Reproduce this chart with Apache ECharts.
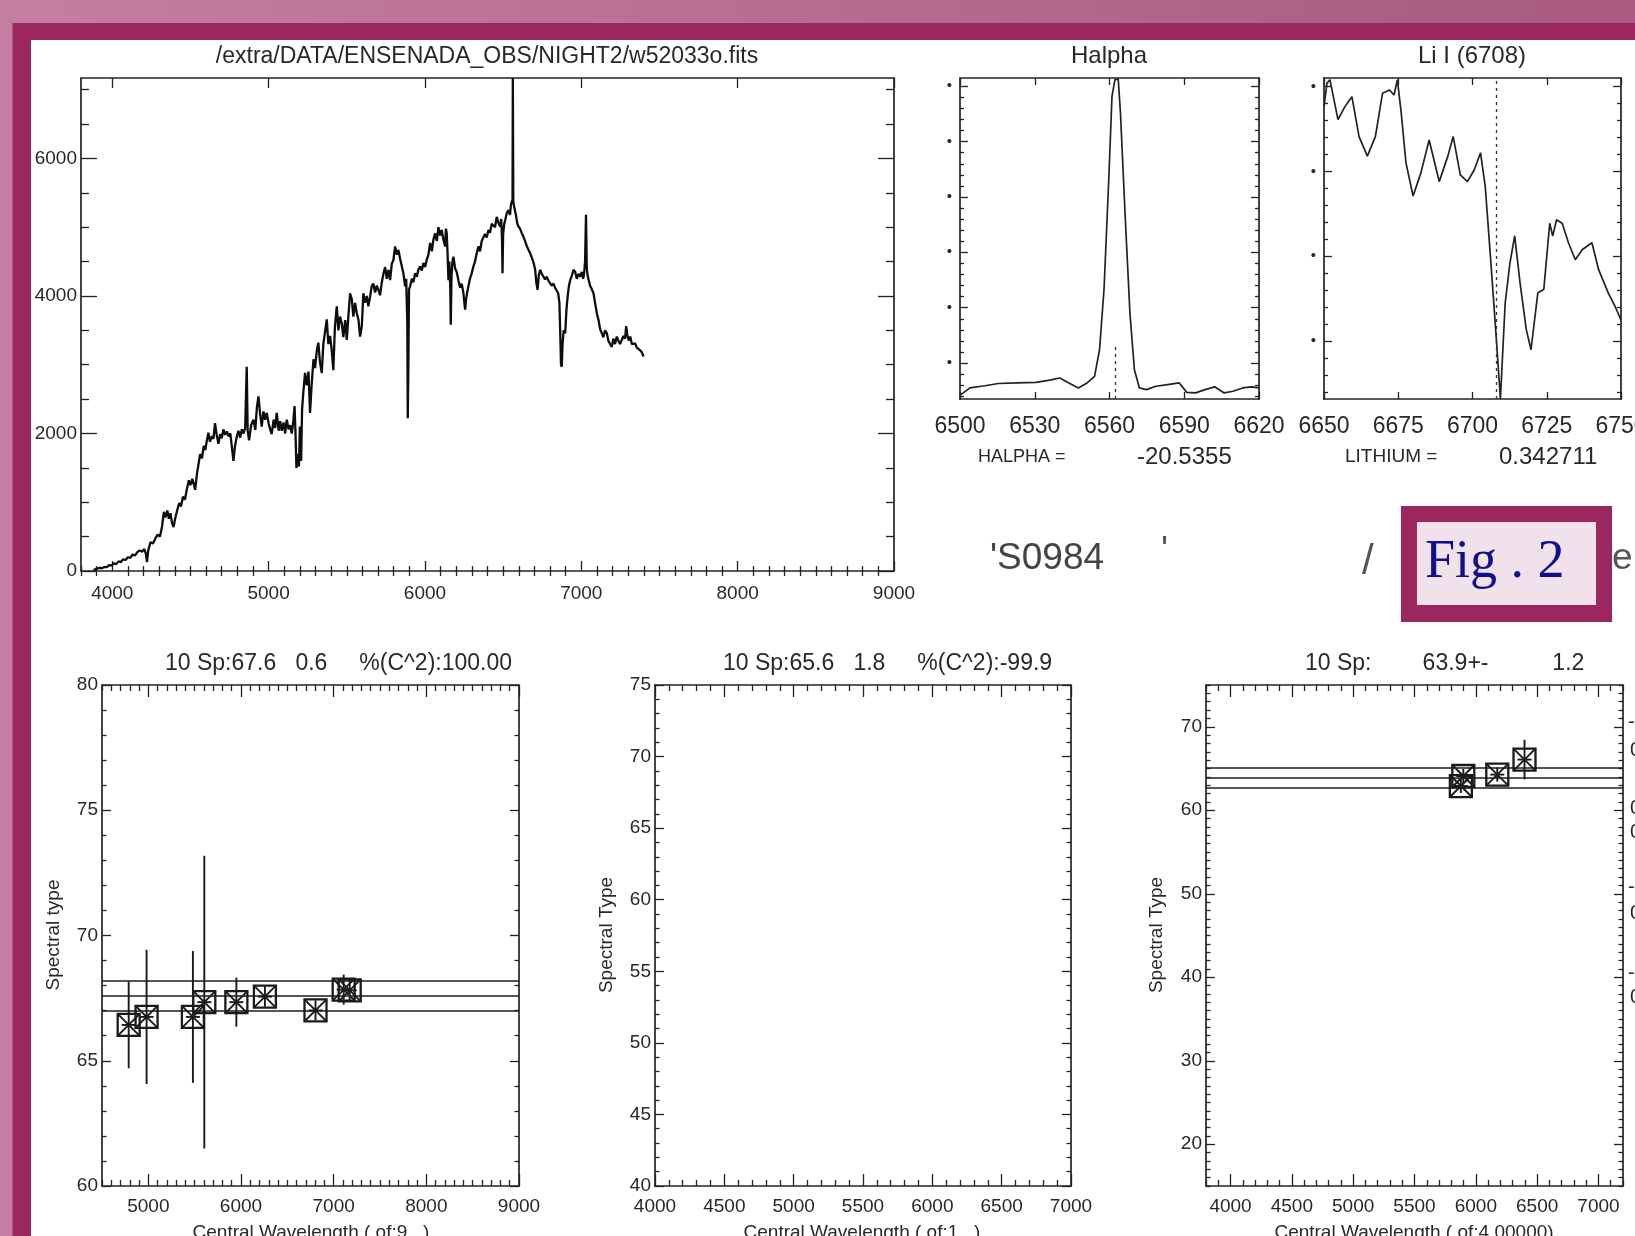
<!DOCTYPE html>
<html><head><meta charset="utf-8">
<script src="https://cdn.jsdelivr.net/npm/echarts@6/dist/echarts.min.js"></script>
<style>html,body{margin:0;padding:0;background:#fff;overflow:hidden}#c{width:1635px;height:1236px}</style>
</head><body><div id="c"></div>
<script>
// ---------- DATA ----------
const specTitle = '/extra/DATA/ENSENADA_OBS/NIGHT2/w52033o.fits';
const specXTicks = [4000, 5000, 6000, 7000, 8000, 9000];
const specYTicks = [0, 2000, 4000, 6000];
const specPoints = [
[3880,15],[3895,30],[3905,20],[3920,45],[3935,40],[3950,60],[3965,55],[3980,85],[3995,80],[4010,110],
[4025,100],[4040,140],[4055,130],[4070,170],[4085,160],[4100,200],[4115,190],[4130,240],[4145,225],[4160,275],
[4175,300],[4190,280],[4205,320],[4215,250],[4222,130],[4230,300],[4245,420],[4260,400],[4275,470],[4290,530],
[4305,500],[4318,640],[4330,860],[4340,780],[4352,880],[4362,760],[4372,840],[4382,700],[4392,640],[4402,760],
[4415,880],[4428,990],[4440,940],[4452,1080],[4465,1040],[4478,1200],[4490,1320],[4500,1250],[4512,1340],[4522,1260],
[4530,1180],[4542,1420],[4552,1560],[4562,1700],[4574,1640],[4585,1820],[4595,1760],[4605,1900],[4615,2010],[4625,1880],
[4637,1960],[4647,1920],[4657,2150],[4667,1990],[4679,1850],[4690,1990],[4700,1930],[4711,2060],[4722,1980],[4733,2030],
[4743,1960],[4755,2000],[4765,1800],[4775,1600],[4785,1820],[4797,1960],[4807,2040],[4818,1940],[4829,2060],[4839,2000],
[4850,2080],[4860,2970],[4866,2040],[4875,1900],[4888,2120],[4903,2200],[4915,2050],[4925,2380],[4935,2540],[4945,2300],
[4956,2100],[4967,2320],[4978,2200],[4988,2300],[5000,2150],[5010,2060],[5020,1990],[5032,2200],[5042,2080],[5052,2300],
[5064,2040],[5074,2180],[5084,2040],[5096,2160],[5106,2000],[5116,2200],[5128,2060],[5138,2120],[5148,2000],[5158,2180],
[5166,2400],[5172,2000],[5178,1500],[5186,1700],[5194,1520],[5200,2100],[5208,1600],[5214,2350],[5222,2600],[5233,2880],
[5244,2700],[5255,2900],[5265,2300],[5275,2700],[5287,3080],[5297,2950],[5308,3200],[5318,3320],[5328,3050],[5340,2880],
[5350,3300],[5362,3500],[5372,3660],[5382,3300],[5393,3420],[5404,3200],[5414,2920],[5424,3550],[5436,3850],[5446,3500],
[5457,3700],[5468,3600],[5478,3400],[5490,3650],[5500,3360],[5510,3700],[5521,4040],[5532,3950],[5542,3700],[5553,3900],
[5564,3750],[5575,3650],[5585,3410],[5596,3560],[5606,4040],[5617,3900],[5628,4000],[5638,3850],[5649,3990],[5660,4150],
[5670,4180],[5681,4050],[5692,4150],[5702,4090],[5713,4010],[5724,4200],[5735,4330],[5745,4420],[5756,4250],[5767,4380],
[5777,4230],[5788,4470],[5798,4520],[5809,4720],[5820,4600],[5830,4670],[5841,4540],[5851,4520],[5862,4330],[5873,4140],
[5880,4250],[5887,3600],[5890,2220],[5894,3000],[5898,4100],[5905,4140],[5916,4250],[5926,4200],[5937,4330],[5948,4280],
[5958,4380],[5969,4430],[5980,4370],[5990,4480],[6001,4420],[6011,4520],[6022,4600],[6033,4770],[6044,4650],[6054,4820],
[6065,4910],[6076,4800],[6086,5000],[6097,4880],[6107,4960],[6118,4820],[6129,4720],[6134,4980],[6139,4910],[6145,4600],
[6150,4230],[6156,4500],[6162,4100],[6165,3580],[6170,4300],[6176,4500],[6182,4570],[6193,4400],[6203,4350],[6214,4230],
[6225,4120],[6235,4180],[6246,4040],[6252,3900],[6257,3800],[6263,3950],[6270,4050],[6278,4140],[6288,4250],[6299,4330],
[6310,4430],[6320,4500],[6331,4620],[6342,4720],[6352,4650],[6363,4800],[6374,4810],[6384,4900],[6395,4850],[6406,4960],
[6416,4920],[6427,5050],[6438,5060],[6448,5000],[6459,5150],[6470,5060],[6481,5010],[6488,5120],[6493,4800],[6496,4330],
[6500,4900],[6507,5050],[6513,5100],[6523,5200],[6534,5250],[6544,5180],[6550,5330],[6555,5350],[6560,5400],[6562,7170],
[6565,5380],[6570,5300],[6580,5200],[6590,5060],[6598,5010],[6608,4980],[6618,4920],[6630,4860],[6640,4800],[6652,4720],
[6662,4700],[6673,4620],[6683,4560],[6695,4480],[6705,4380],[6712,4200],[6720,4090],[6728,4300],[6737,4380],[6747,4320],
[6758,4330],[6768,4240],[6779,4280],[6790,4220],[6800,4240],[6811,4150],[6822,4180],[6832,4120],[6843,4100],[6852,4040],
[6860,3900],[6866,3400],[6870,3000],[6875,2970],[6880,3300],[6887,3500],[6897,3460],[6905,3800],[6913,4000],[6921,4150],
[6929,4230],[6940,4300],[6950,4380],[6961,4350],[6971,4250],[6982,4320],[6993,4280],[7003,4350],[7012,4250],[7018,4330],
[7024,4500],[7030,5180],[7035,4400],[7040,4300],[7046,4280],[7056,4150],[7067,4100],[7078,4040],[7088,3900],[7099,3750],
[7110,3650],[7120,3520],[7131,3460],[7141,3400],[7152,3500],[7163,3460],[7173,3350],[7184,3300],[7195,3260],[7205,3380],
[7216,3300],[7227,3410],[7237,3350],[7248,3300],[7259,3360],[7270,3420],[7280,3380],[7287,3560],[7295,3420],[7305,3350],
[7313,3410],[7323,3300],[7334,3280],[7344,3310],[7355,3250],[7365,3230],[7376,3210],[7387,3180],[7398,3120]
];

const haTitle = 'Halpha';
const haXTicks = [6500, 6530, 6560, 6590, 6620];
const haYTicks = [1, 2, 3, 4, 5, 6];
const haPoints = [
[6500,0.42],[6501.3,0.46],[6504,0.55],[6510,0.59],[6515.4,0.63],[6523,0.64],[6530.5,0.65],[6536,0.69],[6540,0.73],[6543.7,0.64],
[6547.5,0.55],[6551,0.64],[6554,0.76],[6556,1.24],[6557.8,2.33],[6559.7,4.31],[6561,5.82],[6562.2,6.12],[6563.5,6.13],[6564.4,5.52],
[6566.3,3.65],[6568.2,1.90],[6570,0.88],[6572,0.55],[6574.8,0.52],[6578.6,0.58],[6583.3,0.61],[6588,0.64],[6591,0.47],[6594.6,0.46],
[6598.3,0.52],[6602.2,0.57],[6606,0.46],[6609.6,0.49],[6613.4,0.55],[6617,0.57],[6620,0.55]
];
const haCenter = 6562.5;
const haDashTop = 1.3;
const haLabel = 'HALPHA =';
const haValue = '-20.5355';

const liTitle = 'Li I (6708)';
const liXTicks = [6650, 6675, 6700, 6725, 6750];
const liYTicks = [1, 2, 3, 4];
const liPoints = [
[6650,3.76],[6651,4.04],[6652,4.08],[6654.7,3.61],[6657,3.76],[6659.4,3.88],[6661.8,3.41],[6664.6,3.18],[6667.3,3.41],[6669.7,3.92],
[6672,3.96],[6673.6,3.90],[6674.7,4.08],[6676,3.69],[6677.6,3.10],[6680,2.71],[6682.6,2.98],[6685.4,3.37],[6688.8,2.88],[6691.7,3.18],
[6693.5,3.41],[6695.9,2.96],[6698.3,2.88],[6700.6,3.02],[6702.7,3.22],[6704.3,2.82],[6706.2,1.92],[6707.8,1.14],[6709.4,0.32],[6711,1.45],
[6712.6,1.92],[6714.2,2.24],[6716,1.69],[6718.1,1.14],[6719.7,0.90],[6722,1.57],[6724,1.61],[6726,2.39],[6727,2.24],[6728.3,2.43],
[6730.2,2.39],[6732.3,2.16],[6734.6,1.96],[6737,2.08],[6740.2,2.16],[6742.5,1.84],[6745.7,1.57],[6748,1.41],[6750,1.25]
];
const liCenter = 6708;
const liLabel = 'LITHIUM =';
const liValue = '0.342711';

// bottom-left panel
const b1Wave = [4788, 4981, 5481, 5604, 5950, 6258, 6804, 7108, 7173];
const b1Sp   = [66.43, 66.75, 66.75, 67.34, 67.34, 67.56, 67.01, 67.84, 67.81];
const b1Err  = [1.73, 2.68, 2.63, 5.84, 0.98, 0.4, 0.4, 0.6, 0.4];
const b1Mean = 67.6, b1Sig = 0.6, b1Chi = '100.00', b1N = '9   ';
const b1XTicks = [5000, 6000, 7000, 8000, 9000];
const b1YTicks = [60, 65, 70, 75, 80];
// bottom-middle panel (no points)
const b2Mean = 65.6, b2Sig = 1.8, b2Chi = '-99.9', b2N = '1   ';
const b2XTicks = [4000, 4500, 5000, 5500, 6000, 6500, 7000];
const b2YTicks = [40, 45, 50, 55, 60, 65, 70, 75];
// bottom-right panel
const b3Wave = [5878, 5898, 6175, 6397];
const b3Sp   = [62.9, 64.1, 64.27, 66.07];
const b3Err  = [0.7, 0.6, 0.6, 2.37];
const b3Mean = 63.9, b3Sig = 1.2, b3N = '4.00000';
const b3XTicks = [4000, 4500, 5000, 5500, 6000, 6500, 7000];
const b3YTicks = [20, 30, 40, 50, 60, 70];

// ---------- STYLE / HELPERS ----------
const FONT = 'Liberation Sans';
const INK = '#232323';
const TXT = '#282828';
const xAxes = [], yAxes = [];
function range(a, b, s, ex) {
  const r = [];
  for (let i = 0; a + i * s <= b + 1e-9; i++) {
    const v = Math.round((a + i * s) * 1000) / 1000;
    if (!ex.some(e => Math.abs(e - v) < 1e-6)) r.push(v);
  }
  return r;
}
function lab(vals, fs, margin, fmt) {
  return {show: true, customValues: vals, fontSize: fs, margin: margin, color: TXT, fontFamily: FONT,
          formatter: fmt || (v => String(v))};
}
function addBox(g, c) {
  const xi = xAxes.length, yi = yAxes.length;
  const ls = {color: INK, width: 1.3};
  ['bottom', 'top'].forEach(pos => {
    xAxes.push({type: 'value', gridIndex: g, position: pos, min: c.x[0], max: c.x[1], splitLine: {show: false},
      axisLine: {show: true, onZero: false, lineStyle: {color: INK, width: 1.7}},
      axisTick: {show: true, inside: true, length: c.xt, customValues: c.xMaj, lineStyle: ls},
      axisLabel: pos === 'bottom' ? lab(c.xLab, c.xfs, c.xm, c.xfmt) : {show: false}});
    if (c.xMin) xAxes.push({type: 'value', gridIndex: g, position: pos, min: c.x[0], max: c.x[1], splitLine: {show: false},
      axisLine: {show: false},
      axisTick: {show: true, inside: true, length: c.xt / 2, customValues: c.xMin, lineStyle: ls},
      axisLabel: {show: false}});
  });
  ['left', 'right'].forEach(pos => {
    yAxes.push({type: 'value', gridIndex: g, position: pos, min: c.y[0], max: c.y[1], splitLine: {show: false},
      axisLine: {show: true, onZero: false, lineStyle: {color: INK, width: 1.7}},
      axisTick: {show: true, inside: true, length: c.yt, customValues: c.yMaj, lineStyle: ls},
      axisLabel: pos === 'left' ? lab(c.yLab, c.yfs, c.ym, c.yfmt) : {show: false}});
    if (c.yMin) yAxes.push({type: 'value', gridIndex: g, position: pos, min: c.y[0], max: c.y[1], splitLine: {show: false},
      axisLine: {show: false},
      axisTick: {show: true, inside: true, length: c.yt / 2, customValues: c.yMin, lineStyle: ls},
      axisLabel: {show: false}});
  });
  return {xi, yi};
}
const dot = () => '•';

const gridBase = {containLabel: false, outerBoundsMode: 'none'};
const grids = [
  Object.assign({left: 81, top: 78, width: 813, height: 493}, gridBase),
  Object.assign({left: 960, top: 78, width: 299, height: 321}, gridBase),
  Object.assign({left: 1324, top: 78, width: 297, height: 321}, gridBase),
  Object.assign({left: 102, top: 685, width: 417, height: 501}, gridBase),
  Object.assign({left: 655, top: 685, width: 416, height: 501}, gridBase),
  Object.assign({left: 1206, top: 685, width: 417, height: 501}, gridBase)
];

const A0 = addBox(0, {x: [3800, 9000], y: [0, 7170], xMaj: specXTicks, xMin: range(3800, 9000, 100, specXTicks),
  yMaj: specYTicks, yMin: range(500, 7000, 500, specYTicks), xLab: specXTicks, yLab: specYTicks,
  xt: 10, yt: 16, xfs: 19, yfs: 19, xm: 13, ym: 4});
const A1 = addBox(1, {x: [6500, 6620], y: [0.35, 6.15], xMaj: haXTicks, yMaj: haYTicks, yMin: range(0.4, 6.0, 0.2, haYTicks),
  xLab: haXTicks, yLab: haYTicks, xt: 7, yt: 8, xfs: 23, yfs: 15, xm: 16, ym: 8, yfmt: dot});
const A2 = addBox(2, {x: [6650, 6750], y: [0.32, 4.10], xMaj: liXTicks, yMaj: liYTicks, yMin: range(0.4, 4.0, 0.2, liYTicks),
  xLab: liXTicks, yLab: liYTicks, xt: 7, yt: 8, xfs: 23, yfs: 15, xm: 16, ym: 8, yfmt: dot});
const A3 = addBox(3, {x: [4500, 9000], y: [60, 80], xMaj: b1XTicks, xMin: range(4500, 9000, 100, b1XTicks),
  yMaj: b1YTicks, yMin: range(60, 80, 1, b1YTicks), xLab: b1XTicks, yLab: b1YTicks, xt: 12, yt: 9, xfs: 19, yfs: 19, xm: 11, ym: 4});
const A4 = addBox(4, {x: [4000, 7000], y: [40, 75], xMaj: b2XTicks, xMin: range(4000, 7000, 100, b2XTicks),
  yMaj: b2YTicks, yMin: range(40, 75, 1, b2YTicks), xLab: b2XTicks, yLab: b2YTicks, xt: 12, yt: 9, xfs: 19, yfs: 19, xm: 11, ym: 4});
const A5 = addBox(5, {x: [3800, 7200], y: [15, 75], xMaj: b3XTicks, xMin: range(3800, 7200, 100, b3XTicks),
  yMaj: b3YTicks, yMin: range(15, 75, 1, b3YTicks), xLab: b3XTicks, yLab: b3YTicks, xt: 12, yt: 9, xfs: 19, yfs: 19, xm: 11, ym: 4});

function markerItem(params, api) {
  const x = api.value(0), y = api.value(1), e = api.value(2);
  const c = api.coord([x, y]);
  const t = api.coord([x, y + e]);
  const b = api.coord([x, y - e]);
  const h = 11, s = 7;
  const st = {stroke: '#1a1a1a', lineWidth: 1.9, fill: 'none'};
  return {type: 'group', children: [
    {type: 'rect', shape: {x: c[0] - h, y: c[1] - h, width: 2 * h, height: 2 * h}, style: {stroke: '#1a1a1a', lineWidth: 2.3, fill: 'none'}},
    {type: 'line', shape: {x1: c[0] - h, y1: c[1] - h, x2: c[0] + h, y2: c[1] + h}, style: st},
    {type: 'line', shape: {x1: c[0] - h, y1: c[1] + h, x2: c[0] + h, y2: c[1] - h}, style: st},
    {type: 'line', shape: {x1: c[0] - s, y1: c[1], x2: c[0] + s, y2: c[1]}, style: st},
    {type: 'line', shape: {x1: c[0], y1: Math.min(t[1], c[1] - s), x2: c[0], y2: Math.max(b[1], c[1] + s)}, style: st}
  ]};
}
function fitLines(mean, sig) {
  return {silent: true, symbol: ['none', 'none'], label: {show: false}, animation: false,
    lineStyle: {color: '#1c1c1c', type: 'solid', width: 1.6},
    data: [{yAxis: +(mean - sig).toFixed(2)}, {yAxis: mean}, {yAxis: +(mean + sig).toFixed(2)}]};
}

const series = [
  {type: 'line', xAxisIndex: A0.xi, yAxisIndex: A0.yi, data: specPoints, symbol: 'none', showSymbol: false,
   lineStyle: {color: '#0d0d0d', width: 2.3}, silent: true, animation: false},
  {type: 'line', xAxisIndex: A1.xi, yAxisIndex: A1.yi, data: haPoints, symbol: 'none', showSymbol: false,
   lineStyle: {color: '#222', width: 1.7}, silent: true, animation: false,
   markLine: {silent: true, symbol: ['none', 'none'], label: {show: false}, animation: false,
     lineStyle: {color: '#333', type: [3, 4], width: 1.3},
     data: [[{coord: [haCenter, 0.35]}, {coord: [haCenter, haDashTop]}]]}},
  {type: 'line', xAxisIndex: A2.xi, yAxisIndex: A2.yi, data: liPoints, symbol: 'none', showSymbol: false,
   lineStyle: {color: '#222', width: 1.7}, silent: true, animation: false,
   markLine: {silent: true, symbol: ['none', 'none'], label: {show: false}, animation: false,
     lineStyle: {color: '#333', type: [3, 4], width: 1.3}, data: [{xAxis: liCenter}]}},
  {type: 'custom', xAxisIndex: A3.xi, yAxisIndex: A3.yi, renderItem: markerItem, encode: {x: 0, y: 1},
   data: b1Wave.map((w, i) => [w, b1Sp[i], b1Err[i]]), silent: true, animation: false, z: 5},
  {type: 'line', xAxisIndex: A3.xi, yAxisIndex: A3.yi, data: [], silent: true, animation: false, markLine: fitLines(b1Mean, b1Sig)},
  {type: 'line', xAxisIndex: A4.xi, yAxisIndex: A4.yi, data: [], silent: true, animation: false},
  {type: 'custom', xAxisIndex: A5.xi, yAxisIndex: A5.yi, renderItem: markerItem, encode: {x: 0, y: 1},
   data: b3Wave.map((w, i) => [w, b3Sp[i], b3Err[i]]), silent: true, animation: false, z: 5},
  {type: 'line', xAxisIndex: A5.xi, yAxisIndex: A5.yi, data: [], silent: true, animation: false, markLine: fitLines(b3Mean, b3Sig)}
];

function txt(x, y, s, fs, o) {
  o = o || {};
  const al = o.align || 'left', va = o.va || 'middle';
  return {type: 'text', x: x, y: y, z: o.z || 10, rotation: o.rot || 0,
    style: {text: s, fill: o.fill || TXT, font: (o.w || 'normal') + ' ' + fs + 'px "' + (o.ff || FONT) + '"',
      align: al, textAlign: al, verticalAlign: va, textVerticalAlign: va}};
}

const graphics = [
  {type: 'rect', z: -100, shape: {x: 0, y: 0, width: 1635, height: 1236},
   style: {fill: new echarts.graphic.LinearGradient(0, 0, 1, 0, [{offset: 0, color: '#c47fa3'}, {offset: 1, color: '#a85a80'}])}},
  {type: 'rect', z: -99, shape: {x: 12.5, y: 23, width: 1623, height: 1213}, style: {fill: '#9b2660'}},
  {type: 'rect', z: -98, shape: {x: 31, y: 40, width: 1604, height: 1196}, style: {fill: '#ffffff'}},
  txt(487, 57, specTitle, 23, {align: 'center'}),
  txt(1109, 56, haTitle, 24, {align: 'center'}),
  txt(1472, 56, liTitle, 24, {align: 'center'}),
  txt(978, 457, haLabel, 18),
  txt(1137, 457, haValue, 24),
  txt(1345, 457, liLabel, 19),
  txt(1499, 457, liValue, 24),
  txt(990, 559, "'S0984", 37, {fill: '#444'}),
  txt(1161, 552, "'", 37, {fill: '#555'}),
  txt(1362, 562, '/', 42, {fill: '#555'}),
  txt(1612, 559, 'e', 37, {fill: '#555'}),
  txt(165, 664, '10 Sp:' + b1Mean + '   ' + b1Sig + '     %(C^2):' + b1Chi, 23),
  txt(723, 664, '10 Sp:' + b2Mean + '   ' + b2Sig + '     %(C^2):' + b2Chi, 23),
  txt(1305, 664, '10 Sp:        ' + b3Mean + '+-          ' + b3Sig, 23),
  txt(54, 935, 'Spectral type', 19, {align: 'center', rot: Math.PI / 2}),
  txt(607, 935, 'Spectral Type', 19, {align: 'center', rot: Math.PI / 2}),
  txt(1157, 935, 'Spectral Type', 19, {align: 'center', rot: Math.PI / 2}),
  txt(311, 1233, 'Central Wavelength ( of:' + b1N + ')', 19, {align: 'center'}),
  txt(862, 1233, 'Central Wavelength ( of:' + b2N + ')', 19, {align: 'center'}),
  txt(1414, 1233, 'Central Wavelength ( of:' + b3N + ')', 19, {align: 'center'}),
  txt(1628, 722, '-', 20), txt(1628, 887, '-', 20), txt(1628, 973, '-', 20),
  txt(1630, 750, '0', 20), txt(1630, 808, '0', 20), txt(1630, 832, '0', 20), txt(1630, 913, '0', 20), txt(1630, 997, '0', 20),
  {type: 'rect', z: 100, shape: {x: 1401, y: 506, width: 211, height: 116}, style: {fill: '#9b2660'}},
  {type: 'rect', z: 101, shape: {x: 1417, y: 522, width: 179, height: 83}, style: {fill: '#f1e1eb'}},
  txt(1425, 563, 'Fig . 2', 54, {ff: 'Liberation Serif', fill: '#10108c', z: 102})
];

const chart = echarts.init(document.getElementById('c'), null, {renderer: 'canvas', width: 1635, height: 1236});
chart.setOption({
  animation: false,
  backgroundColor: 'transparent',
  grid: grids,
  xAxis: xAxes,
  yAxis: yAxes,
  series: series,
  graphic: {elements: graphics}
});
</script>
</body></html>
